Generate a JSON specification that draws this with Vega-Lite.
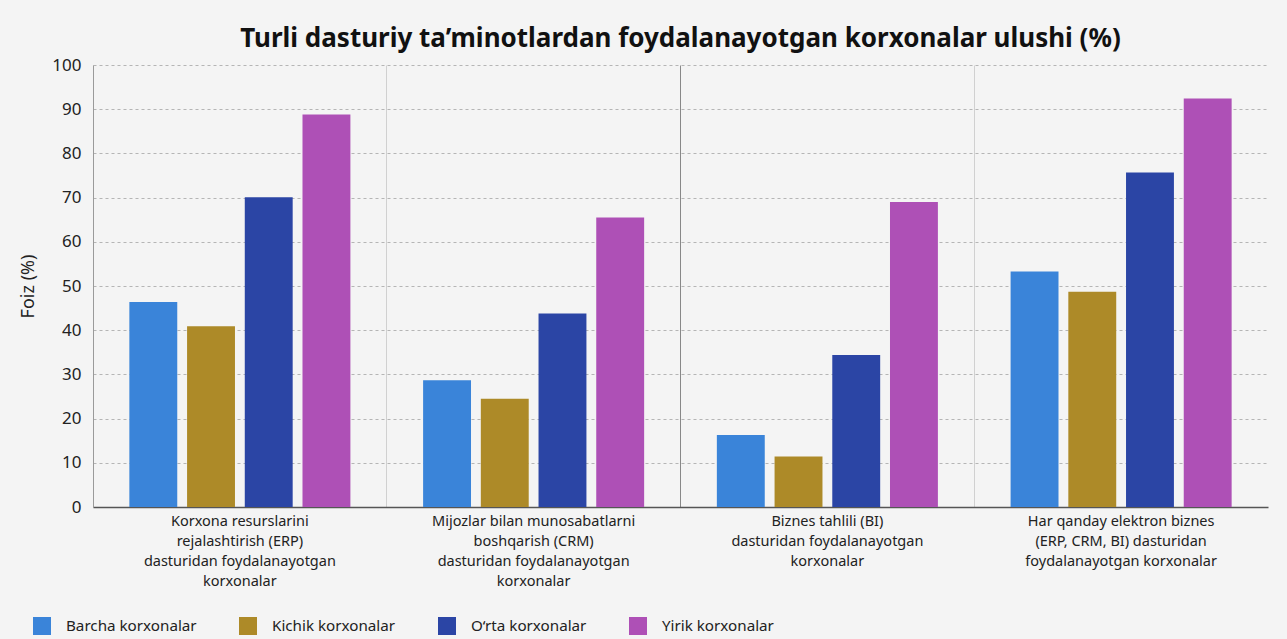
{
  "$schema": "https://vega.github.io/schema/vega-lite/v6.json",
  "autosize": {"type": "none"},
  "padding": {"left": 93, "top": 65, "right": 19, "bottom": 132},
  "width": 1175,
  "height": 442,
  "background": "#f4f4f4",
  "title": {
    "text": "Turli dasturiy ta’minotlardan foydalanayotgan korxonalar ulushi (%)",
    "font": "Noto Sans",
    "fontSize": 26,
    "fontWeight": "bold",
    "color": "#111111",
    "anchor": "middle",
    "offset": 4
  },
  "data": {
    "values": [
      {"category": "Korxona resurslarini|rejalashtirish (ERP)|dasturidan foydalanayotgan|korxonalar", "group": "Barcha korxonalar", "value": 46.4},
      {"category": "Korxona resurslarini|rejalashtirish (ERP)|dasturidan foydalanayotgan|korxonalar", "group": "Kichik korxonalar", "value": 40.9},
      {"category": "Korxona resurslarini|rejalashtirish (ERP)|dasturidan foydalanayotgan|korxonalar", "group": "O‘rta korxonalar", "value": 70.1},
      {"category": "Korxona resurslarini|rejalashtirish (ERP)|dasturidan foydalanayotgan|korxonalar", "group": "Yirik korxonalar", "value": 88.8},
      {"category": "Mijozlar bilan munosabatlarni|boshqarish (CRM)|dasturidan foydalanayotgan|korxonalar", "group": "Barcha korxonalar", "value": 28.7},
      {"category": "Mijozlar bilan munosabatlarni|boshqarish (CRM)|dasturidan foydalanayotgan|korxonalar", "group": "Kichik korxonalar", "value": 24.5},
      {"category": "Mijozlar bilan munosabatlarni|boshqarish (CRM)|dasturidan foydalanayotgan|korxonalar", "group": "O‘rta korxonalar", "value": 43.8},
      {"category": "Mijozlar bilan munosabatlarni|boshqarish (CRM)|dasturidan foydalanayotgan|korxonalar", "group": "Yirik korxonalar", "value": 65.5},
      {"category": "Biznes tahlili (BI)|dasturidan foydalanayotgan|korxonalar", "group": "Barcha korxonalar", "value": 16.3},
      {"category": "Biznes tahlili (BI)|dasturidan foydalanayotgan|korxonalar", "group": "Kichik korxonalar", "value": 11.4},
      {"category": "Biznes tahlili (BI)|dasturidan foydalanayotgan|korxonalar", "group": "O‘rta korxonalar", "value": 34.4},
      {"category": "Biznes tahlili (BI)|dasturidan foydalanayotgan|korxonalar", "group": "Yirik korxonalar", "value": 69.0},
      {"category": "Har qanday elektron biznes|(ERP, CRM, BI) dasturidan|foydalanayotgan korxonalar", "group": "Barcha korxonalar", "value": 53.3},
      {"category": "Har qanday elektron biznes|(ERP, CRM, BI) dasturidan|foydalanayotgan korxonalar", "group": "Kichik korxonalar", "value": 48.7},
      {"category": "Har qanday elektron biznes|(ERP, CRM, BI) dasturidan|foydalanayotgan korxonalar", "group": "O‘rta korxonalar", "value": 75.7},
      {"category": "Har qanday elektron biznes|(ERP, CRM, BI) dasturidan|foydalanayotgan korxonalar", "group": "Yirik korxonalar", "value": 92.4}
    ]
  },
  "mark": {"type": "bar"},
  "encoding": {
    "x": {
      "field": "category",
      "type": "nominal",
      "sort": null,
      "title": null,
      "scale": {"paddingInner": 0, "paddingOuter": 0},
      "axis": {
        "labelAngle": 0,
        "labelExpr": "split(datum.label, '|')",
        "labelFont": "Noto Sans",
        "labelFontSize": 14.5,
        "labelColor": "#222222",
        "labelLineHeight": 20.3,
        "labelBaseline": "top",
        "labelPadding": 7,
        "labelLimit": 0,
        "ticks": false,
        "domainColor": "#555555",
        "domainWidth": 1.5,
        "grid": true,
        "bandPosition": 0,
        "gridColor": {"condition": {"test": "indexof(datum.value, 'Biznes') === 0", "value": "#888888"}, "value": "#d0d0d0"},
        "gridWidth": 1
      }
    },
    "xOffset": {
      "field": "group",
      "type": "nominal",
      "sort": null,
      "scale": {"paddingInner": 0.17, "paddingOuter": 0.63}
    },
    "y": {
      "field": "value",
      "type": "quantitative",
      "title": "Foiz (%)",
      "scale": {"domain": [0, 100], "nice": false},
      "axis": {
        "values": [0, 10, 20, 30, 40, 50, 60, 70, 80, 90, 100],
        "labelFont": "Noto Sans",
        "labelFontSize": 17,
        "labelColor": "#222222",
        "labelPadding": 12,
        "ticks": false,
        "domainColor": "#9a9a9a",
        "grid": true,
        "gridDash": [3, 3],
        "gridColor": "#b5b5b5",
        "titleFont": "Noto Sans",
        "titleFontSize": 18,
        "titleFontWeight": "normal",
        "titleColor": "#222222",
        "titlePadding": 14
      }
    },
    "color": {
      "field": "group",
      "type": "nominal",
      "sort": null,
      "title": null,
      "scale": {
        "domain": ["Barcha korxonalar", "Kichik korxonalar", "O‘rta korxonalar", "Yirik korxonalar"],
        "range": ["#3a84d9", "#ad8a28", "#2b45a5", "#ae50b6"]
      },
      "legend": {
        "orient": "none",
        "direction": "horizontal",
        "legendX": -60,
        "legendY": 552,
        "padding": 0,
        "symbolType": "square",
        "symbolSize": 324,
        "symbolStrokeWidth": 0,
        "symbolOpacity": 1,
        "labelFont": "Noto Sans",
        "labelFontSize": 15.2,
        "labelColor": "#222222",
        "labelOffset": 15,
        "columnPadding": 42
      }
    }
  },
  "config": {
    "view": {"stroke": null}
  }
}
